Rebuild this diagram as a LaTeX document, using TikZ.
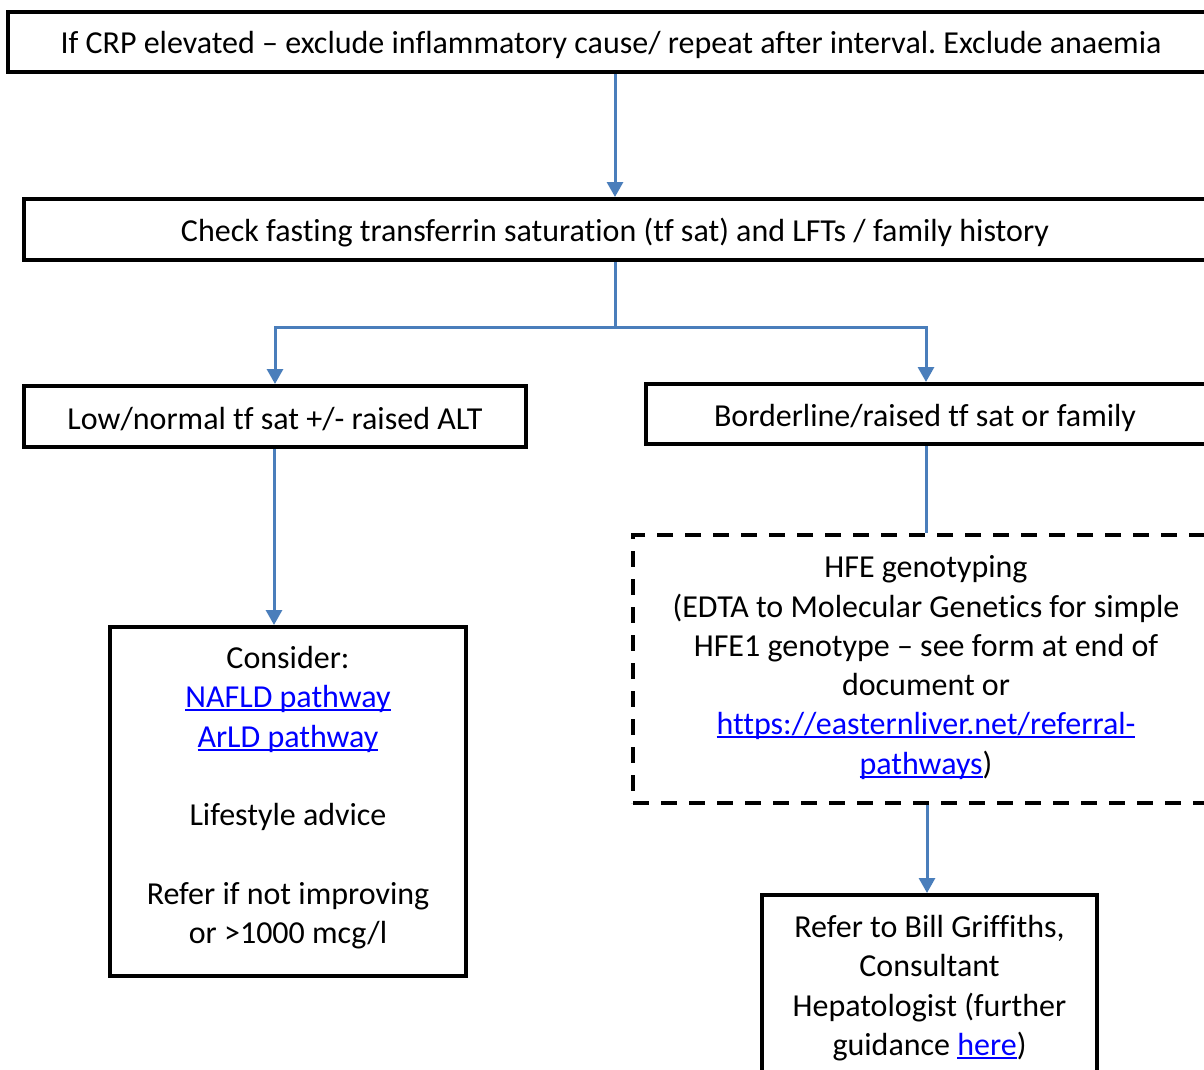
\documentclass[tikz,border=0pt]{standalone}
\usepackage{fontspec}
\setmainfont{Carlito}[Ligatures={NoCommon}]
\usetikzlibrary{arrows.meta,calc}
\frenchspacing
\definecolor{flowblue}{HTML}{4A7EBB}
\definecolor{linkblue}{HTML}{0000FF}
% hyperlink look: blue text with a close underline
\newcommand{\lnk}[1]{\textcolor{linkblue}{\setbox0\hbox{#1}\rlap{\rule[-3.5pt]{\wd0}{2pt}}\box0}}
\tikzset{
  box/.style={draw=black, line width=4pt, minimum width=#1, inner sep=0pt},
  dashbox/.style={draw=black, line width=4pt, dash pattern=on 16pt off 12pt, inner sep=0pt},
  label/.style={font=\fontsize{32}{39.3}\selectfont, align=center, inner sep=0pt},
  flow/.style={draw=flowblue, line width=3pt},
  flowarrow/.style={flow, -{Triangle[width=16pt,length=15pt]}}
}
\begin{document}
\begin{tikzpicture}[x=1pt,y=-1pt]
\useasboundingbox (0,0) rectangle (1204,1070);
\clip (0,0) rectangle (1204,1070);
% boxes
\node[box=1206pt, minimum height=60pt] (top) at (611,42) {};
\node[box=1182pt, minimum height=61pt] (check) at (615,229.5) {};
\node[box=502pt, minimum height=61pt] (low) at (275,416.5) {};
\node[box=560pt, minimum height=60pt] (bord) at (926,414) {};
\node[dashbox, minimum width=586pt, minimum height=268pt] (hfe) at (926,669) {};
\node[box=356pt, minimum height=349pt] (cons) at (288,801.5) {};
\node[box=335pt, minimum height=200pt] (refer) at (929.5,995) {};
% texts
\node[label] (ttop) at (611,45) {If CRP elevated – exclude inflammatory cause/ repeat after interval. Exclude anaemia};
\node[label] (tcheck) at (615,233) {Check fasting transferrin saturation (tf sat) and LFTs / family history};
\node[label] (tlow) at (275,419) {Low/normal tf sat +/- raised ALT};
\node[label] (tbord) at (925,418) {Borderline/raised tf sat or family};
\node[label, anchor=north] (thfe) at (926,555.5) {HFE genotyping\\(EDTA to Molecular Genetics for simple\\HFE1 genotype – see form at end of\\document or\\\lnk{https://easternliver.net/referral-}\\\lnk{pathways})};
\node[label, anchor=north] (tcons) at (288,646) {Consider:\\\lnk{NAFLD pathway}\\\lnk{ArLD pathway}\\[39.3pt]Lifestyle advice\\[39.3pt]Refer if not improving\\or >1000 mcg/l};
\node[label, anchor=north] (trefer) at (929.5,915) {Refer to Bill Griffiths,\\Consultant\\Hepatologist (further\\guidance \lnk{here})};
% connectors
\draw[flowarrow] (top.south -| check.north) -- (check.north);
\draw[flow] (check.south) -- ++(0,65) coordinate (split);
\draw[flowarrow] (split) -| (low.north);
\draw[flowarrow] (split) -| (bord.north);
\draw[flowarrow] (low.south -| 274,0) -- (cons.north -| 274,0);
\draw[flow] (bord.south) -- (hfe.north);
\draw[flowarrow] (hfe.south -| 927,0) -- (refer.north -| 927,0);
\end{tikzpicture}
\end{document}
